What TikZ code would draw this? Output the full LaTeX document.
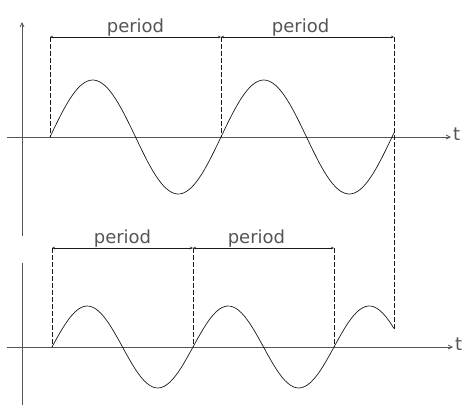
\documentclass[tikz,border=0pt]{standalone}
\usepackage{fontspec}
\setmainfont{DejaVu Sans}
\usetikzlibrary{positioning, arrows.meta, calc}
\definecolor{ink}{HTML}{1A1A1A}
\definecolor{axisgray}{HTML}{555555}
\tikzset{
  axis/.style={line width=0.8pt, color=axisgray},
  axisarr/.style={axis, -{Straight Barb[length=4pt, width=4pt]}},
  wave/.style={line width=0.7pt, color=ink, smooth},
  dimline/.style={line width=0.6pt, color=ink, {Stealth[length=3pt, width=2.5pt]}-{Stealth[length=3pt, width=2.5pt]}},
  extline/.style={line width=0.6pt, color=ink, dash pattern=on 5pt off 2pt},
  lbl/.style={font=\fontsize{18}{18}\selectfont, text=axisgray, inner sep=1pt},
  tlbl/.style={font=\fontsize{18}{18}\selectfont, text=axisgray, inner sep=1pt},
}

\begin{document}
\begin{tikzpicture}[x=1pt, y=-1pt, node distance=2pt]
  \useasboundingbox (0,0) rectangle (467,405);
  % upper signal
  \coordinate (ax1w) at (7,137);   \coordinate (ax1e) at (451,137);
  \coordinate (ay1s) at (22,236);  \coordinate (ay1n) at (22,22);
  \coordinate (z1a) at (50,137);   \coordinate (z1b) at (221,137);
  \coordinate (z1c) at (394,137);
  \coordinate (p1a) at (50,37);    \coordinate (p1b) at (221,37);
  \coordinate (p1c) at (394,37);
  \coordinate (m1a) at ($(p1a)!0.5!(p1b)$);
  \coordinate (m1b) at ($(p1b)!0.46!(p1c)$);
  \draw[axisarr] (ax1w) -- (ax1e);
  \draw[axisarr] (ay1s) -- (ay1n);
  \node[tlbl, right=1pt of ax1e, yshift=3pt] (t1) {t};
  \draw[wave] plot[domain=50:394, samples=120] (\x, {137-57*sin((\x-50)/171*360)});
  \draw[extline] (p1a) -- (z1a);
  \draw[extline] (p1b) -- (z1b);
  \draw[dimline] (p1a) -- (p1b);
  \draw[dimline] (p1b) -- (p1c);
  \node[lbl, above=0pt of m1a] (per1) {period};
  \node[lbl, above=0pt of m1b] (per2) {period};
  % lower signal
  \coordinate (ax2w) at (7,347);   \coordinate (ax2e) at (453,347);
  \coordinate (ay2n) at (22,263);  \coordinate (ay2s) at (22,405);
  \coordinate (z2a) at (52,347);   \coordinate (z2b) at (193,347);
  \coordinate (z2c) at (334,347);  \coordinate (w2e) at (394,331);
  \coordinate (p2a) at (52,248);   \coordinate (p2b) at (193,248);
  \coordinate (p2c) at (334,248);
  \coordinate (m2a) at ($(p2a)!0.5!(p2b)$);
  \coordinate (m2b) at ($(p2b)!0.45!(p2c)$);
  \draw[axisarr] (ax2w) -- (ax2e);
  \draw[axis] (ay2n) -- (ay2s);
  \node[tlbl, right=1pt of ax2e, yshift=3pt] (t2) {t};
  \draw[wave] plot[domain=52:394, samples=120] (\x, {347-41*sin((\x-52)/141*360)});
  \draw[extline] (p1c) -- (w2e);
  \draw[extline] (p2a) -- (z2a);
  \draw[extline] (p2b) -- (z2b);
  \draw[extline] (p2c) -- (z2c);
  \draw[dimline] (p2a) -- (p2b);
  \draw[dimline] (p2b) -- (p2c);
  \node[lbl, above=0pt of m2a] (per3) {period};
  \node[lbl, above=0pt of m2b] (per4) {period};
\end{tikzpicture}
\end{document}
